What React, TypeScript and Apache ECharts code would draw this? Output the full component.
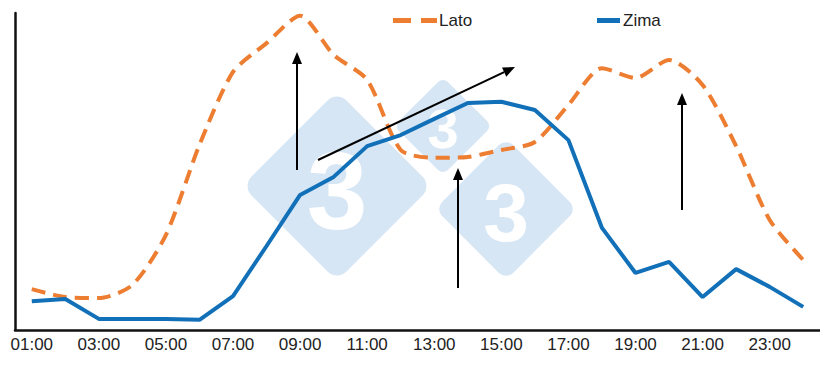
import React, { useEffect, useRef } from "react";
import * as echarts from "echarts";

const hours = [
  "01:00", "02:00", "03:00", "04:00", "05:00", "06:00", "07:00", "08:00",
  "09:00", "10:00", "11:00", "12:00", "13:00", "14:00", "15:00", "16:00",
  "17:00", "18:00", "19:00", "20:00", "21:00", "22:00", "23:00", "24:00",
];

const lato = [
  12.9, 10.4, 10.1, 14.2, 30.0, 58.4, 81.4, 90.5, 99.1, 86.8, 78.9, 56.8,
  54.3, 54.6, 56.8, 59.3, 71.0, 82.6, 79.5, 85.2, 77.3, 58.0, 34.7, 22.1,
];

const zima = [
  9.1, 9.8, 3.5, 3.5, 3.5, 3.2, 10.7, 26.5, 42.6, 48.3, 58.0, 61.5,
  66.6, 71.6, 72.0, 69.4, 59.9, 32.2, 18.0, 21.5, 10.4, 19.2, 13.6, 7.3,
];

const seriesNames = ["Lato", "Zima"];
const ORANGE = "#ed7d31";
const BLUE = "#1170b8";
const FONT = 'Arial, "Liberation Sans", sans-serif';

function arrow(x1: number, y1: number, x2: number, y2: number) {
  const dx = x2 - x1;
  const dy = y2 - y1;
  const len = Math.sqrt(dx * dx + dy * dy);
  const ux = dx / len;
  const uy = dy / len;
  const headLen = 12;
  const headHalf = 5;
  const bx = x2 - ux * headLen;
  const by = y2 - uy * headLen;
  const px = -uy;
  const py = ux;
  return [
    {
      type: "line",
      z: 100,
      shape: { x1, y1, x2: bx, y2: by },
      style: { stroke: "#000", lineWidth: 2 },
    },
    {
      type: "polygon",
      z: 100,
      shape: {
        points: [
          [x2, y2],
          [bx + px * headHalf, by + py * headHalf],
          [bx - px * headHalf, by - py * headHalf],
        ],
      },
      style: { fill: "#000" },
    },
  ];
}

function diamond(cx: number, cy: number, half: number) {
  const side = half * Math.SQRT2;
  return [
    {
      type: "rect",
      z: 0,
      x: cx,
      y: cy,
      rotation: Math.PI / 4,
      shape: { x: -side / 2, y: -side / 2, width: side, height: side, r: side * 0.1 },
      style: { fill: "#d6e6f4" },
    },
    {
      type: "text",
      z: 1,
      x: cx,
      y: cy + half * 0.05,
      style: {
        text: "3",
        fill: "#ffffff",
        fontSize: Math.round(half * 1.15),
        fontWeight: "bold",
        fontFamily: FONT,
        align: "center",
        verticalAlign: "middle",
      },
    },
  ];
}

export default function App() {
  const ref = useRef<HTMLDivElement>(null);

  useEffect(() => {
    if (!ref.current) return;
    const chart = echarts.init(ref.current, undefined, { renderer: "svg" });
    chart.setOption({
      animation: false,
      backgroundColor: "#ffffff",
      grid: { left: 15, top: 13, bottom: 47, width: 818 },
      legend: [
        {
          data: [seriesNames[0]],
          left: 388,
          top: 7,
          icon: "path://M0 0h18v5H0z M28 0h16v5H28z",
          itemWidth: 44,
          itemHeight: 5,
          itemStyle: { color: ORANGE },
          textStyle: { fontSize: 17, color: "#222", fontFamily: FONT, padding: [0, 0, 0, -3] },
        },
        {
          data: [seriesNames[1]],
          left: 592,
          top: 7,
          icon: "rect",
          itemWidth: 23,
          itemHeight: 5,
          itemStyle: { color: BLUE },
          textStyle: { fontSize: 17, color: "#222", fontFamily: FONT, padding: [0, 0, 0, -2] },
        },
      ],
      xAxis: {
        type: "category",
        data: hours,
        boundaryGap: true,
        axisLine: { show: true, lineStyle: { color: "#111", width: 2.5 } },
        axisTick: { show: false },
        axisLabel: {
          interval: 1,
          fontSize: 17,
          color: "#222",
          fontFamily: FONT,
          margin: 6,
        },
        splitLine: { show: false },
      },
      yAxis: {
        type: "value",
        min: 0,
        max: 100,
        axisLine: { show: true, lineStyle: { color: "#111", width: 2.5 } },
        axisTick: { show: false },
        axisLabel: { show: false },
        splitLine: { show: false },
      },
      series: [
        {
          name: seriesNames[0],
          type: "line",
          data: lato,
          smooth: 0.25,
          symbol: "none",
          z: 3,
          itemStyle: { color: ORANGE },
          lineStyle: { color: ORANGE, width: 4, type: [14, 8] },
        },
        {
          name: seriesNames[1],
          type: "line",
          data: zima,
          smooth: false,
          symbol: "none",
          z: 4,
          itemStyle: { color: BLUE },
          lineStyle: { color: BLUE, width: 4 },
        },
      ],
      graphic: [
        ...diamond(443, 126, 49),
        ...diamond(337, 186, 95),
        ...diamond(506, 209, 71),
        ...arrow(297, 170, 297, 52),
        ...arrow(318, 160, 515, 67),
        ...arrow(458, 288, 458, 168),
        ...arrow(682, 210, 682, 93),
      ],
    });
    return () => chart.dispose();
  }, []);

  return (
    <div
      ref={ref}
      style={{ position: "absolute", left: 0, top: 0, width: 820, height: 377 }}
    />
  );
}
